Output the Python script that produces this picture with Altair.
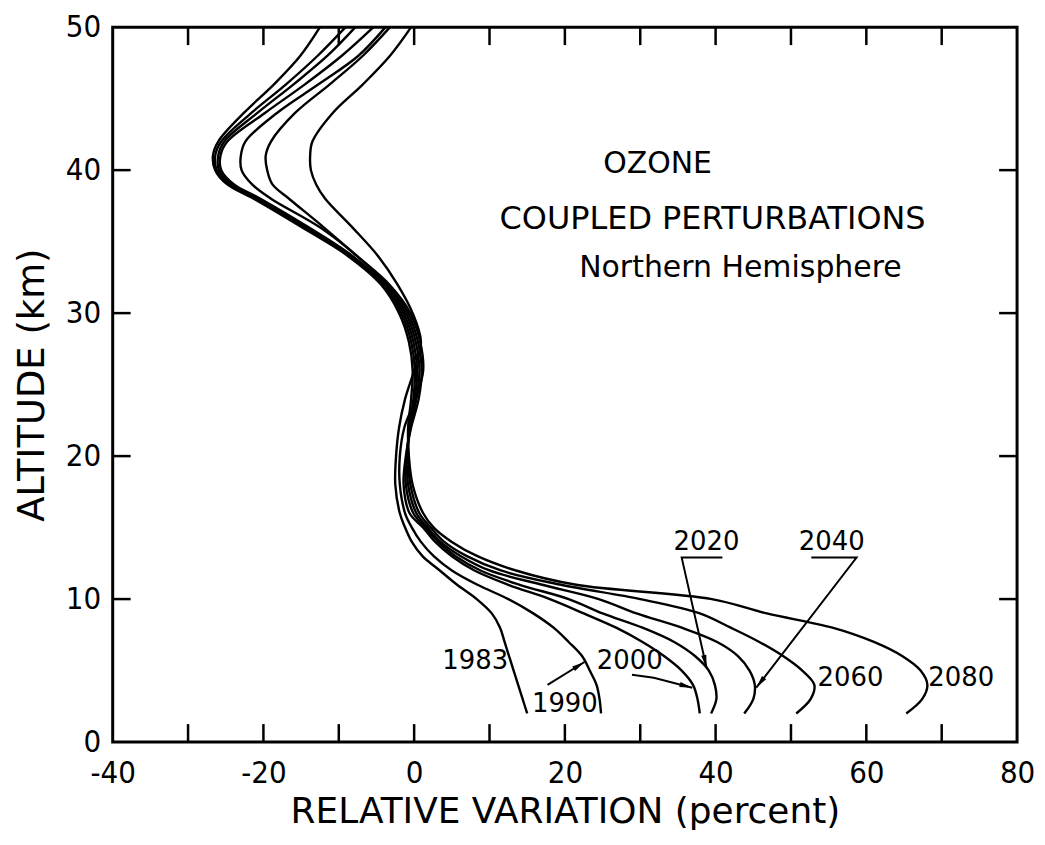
import math
import altair as alt
import pandas as pd

# ---------------- data ----------------
ALT = [2, 3, 4, 5, 6, 7, 8, 9, 10, 11, 12, 13, 14, 15, 16, 18, 20, 22, 24, 26,
       28, 30, 32, 34, 36, 38, 39, 40, 41, 42, 44, 46, 48, 50]

YEARS = ["1983", "1990", "2000", "2020", "2040", "2060", "2080"]

V1983 = [15.0, 14.4, 13.8, 13.2, 12.6, 12.0, 11.4, 10.3, 8.3, 5.7, 3.4, 1.1, -0.3, -1.2, -1.9,
         -2.5, -2.4, -2.0, -1.2, 0.0, 0.9, -0.2, -2.2, -4.8, -8.2, -11.8, -13.0, -13.7, -13.8,
         -13.5, -10.8, -6.8, -3.2, -0.4]
V1990 = [24.8, 24.6, 24.2, 23.3, 22.3, 20.5, 18.5, 15.8, 12.5, 8.4, 5.0, 2.6, 0.9, -0.3, -1.2,
         -1.9, -1.9, -1.3, 0.2, 1.2, 0.8, -0.5, -3.3, -7.6, -12.0, -16.6, -18.8, -19.5, -19.7,
         -19.0, -15.8, -11.2, -6.8, -3.2]
V2000 = [37.9, 37.6, 37.0, 35.5, 33.2, 30.3, 26.8, 22.5, 18.0, 12.5, 8.0, 5.0, 2.8, 1.2, -0.6,
         -1.4, -1.1, -0.4, 0.6, 1.0, 0.5, -0.8, -3.6, -7.6, -12.5, -19.0, -21.5, -22.9, -23.0,
         -22.4, -18.2, -12.7, -7.4, -3.8]
V2020 = [39.4, 40.1, 39.9, 39.1, 37.3, 34.5, 30.3, 25.0, 20.5, 14.0, 8.8, 5.5, 3.2, 1.5, -0.1,
         -1.1, -1.0, -0.5, 0.3, 0.7, 0.2, -1.1, -3.9, -8.2, -14.0, -20.4, -23.9, -25.6, -25.7,
         -24.8, -19.8, -14.5, -9.6, -5.4]
V2040 = [43.8, 45.0, 45.2, 44.5, 43.0, 40.2, 35.5, 29.5, 24.5, 17.0, 10.0, 6.2, 3.5, 1.8, 0.3,
         -0.8, -0.9, -0.6, 0.1, 0.4, -0.1, -1.4, -4.0, -8.4, -14.3, -20.7, -24.2, -25.9, -26.0,
         -25.2, -20.8, -16.0, -11.5, -7.8]
V2060 = [50.7, 52.6, 53.1, 51.5, 49.0, 45.8, 42.0, 37.9, 30.0, 19.5, 11.5, 7.0, 4.0, 2.2, 0.7,
         -0.5, -0.8, -0.7, -0.1, 0.1, -0.4, -1.7, -4.2, -8.6, -14.6, -21.0, -24.5, -26.2, -26.4,
         -25.6, -21.6, -17.0, -12.8, -9.1]
V2080 = [65.3, 67.4, 68.1, 67.2, 64.8, 61.0, 55.5, 46.8, 39.5, 21.5, 13.5, 8.4, 5.0, 2.6, 1.2,
         -0.2, -0.7, -0.8, -0.4, -0.2, -0.7, -2.0, -4.4, -8.8, -14.9, -21.3, -24.8, -26.4, -26.7,
         -26.0, -22.6, -18.6, -15.1, -12.5]
SERIES = [V1983, V1990, V2000, V2020, V2040, V2060, V2080]

# year labels (percent, altitude of baseline)
LABEL_TEXT = ["1983", "1990", "2000", "2020", "2040", "2060", "2080"]
LABEL_X = [8.1, 20.0, 28.6, 38.8, 55.4, 57.9, 72.6]
LABEL_Y = [5.1, 2.1, 5.1, 13.4, 13.4, 3.9, 3.9]

# arrows / leader lines (percent, altitude)
ARROW_1990_X = [17.7, 22.6]
ARROW_1990_Y = [4.0, 5.6]
ARROW_2000_X = [28.9, 31.8, 36.9]
ARROW_2000_Y = [4.7, 4.5, 3.8]
ARROW_2020_X = [40.9, 35.5, 38.8]
ARROW_2020_Y = [12.9, 12.9, 5.2]
ARROW_2040_X = [52.7, 58.7, 45.4]
ARROW_2040_Y = [12.9, 12.9, 3.8]
ARROWS = [("1990", ARROW_1990_X, ARROW_1990_Y), ("2000", ARROW_2000_X, ARROW_2000_Y),
          ("2020", ARROW_2020_X, ARROW_2020_Y), ("2040", ARROW_2040_X, ARROW_2040_Y)]

# title block inside plot
TITLE_LINES = ["OZONE", "COUPLED PERTURBATIONS", "Northern Hemisphere"]
TITLE_X = [32.3, 39.6, 43.3]
TITLE_Y = [39.8, 35.9, 32.5]
TITLE_SIZE = [30, 32, 30]

X_LABELS = [-40, -20, 0, 20, 40, 60, 80]
X_TICKS = [-30, -20, -10, 0, 10, 20, 30, 40, 50, 60, 70]
Y_LABELS = [0, 10, 20, 30, 40, 50]
Y_TICKS = [10, 20, 30, 40]

# ---------------- build ----------------
W, H = 907, 717
X_DOM = [-40, 80]
Y_DOM = [0, 50]
SX = W / (X_DOM[1] - X_DOM[0])
SY = H / (Y_DOM[1] - Y_DOM[0])

rows = []
for yr, vals in zip(YEARS, SERIES):
    for i, (a, v) in enumerate(zip(ALT, vals)):
        rows.append({"year": yr, "alt": a, "pct": v, "o": i})
df = pd.DataFrame(rows)

arow, heads = [], []
for name, xv, yv in ARROWS:
    for i, (x, y) in enumerate(zip(xv, yv)):
        arow.append({"name": name, "pct": x, "alt": y, "o": i})
    dx = (xv[-1] - xv[-2]) * SX
    dy = -(yv[-1] - yv[-2]) * SY
    ang = math.degrees(math.atan2(dx, -dy)) % 360
    heads.append({"name": name, "pct": xv[-1], "alt": yv[-1], "ang": ang})
adf = pd.DataFrame(arow)
hdf = pd.DataFrame(heads)

ldf = pd.DataFrame({"t": LABEL_TEXT, "pct": LABEL_X, "alt": LABEL_Y})
tdf = pd.DataFrame({"t": TITLE_LINES, "pct": TITLE_X, "alt": TITLE_Y, "fs": TITLE_SIZE})

xs = alt.Scale(domain=X_DOM, nice=False, zero=False)
ys = alt.Scale(domain=Y_DOM, nice=False, zero=False)

FONT = "DejaVu Sans"
COND = "DejaVu Sans Condensed"

X_AXIS = alt.Axis(values=X_LABELS, title="RELATIVE VARIATION (percent)",
                  labelFlush=False, labelOverlap=False, domain=False, ticks=False,
                  grid=False, labelFont=COND, labelFontSize=31, labelPadding=17,
                  labelExpr="replace(datum.label, '\u2212', '-')",
                  titleFont=FONT, titleFontSize=36, titleFontWeight="normal",
                  titlePadding=6, labelColor="black", titleColor="black")
Y_AXIS = alt.Axis(values=Y_LABELS, title="ALTITUDE (km)",
                  labelFlush=False, labelOverlap=False, domain=False, ticks=False,
                  grid=False, labelFont=COND, labelFontSize=31, labelPadding=12,
                  titleFont=FONT, titleFontSize=37, titleFontWeight="normal",
                  titlePadding=14, labelColor="black", titleColor="black")


def X():
    return alt.X("pct:Q", scale=xs, axis=X_AXIS)


def Y():
    return alt.Y("alt:Q", scale=ys, axis=Y_AXIS)


curves = alt.Chart(df).mark_line(color="black", strokeWidth=2.4, interpolate="catmull-rom").encode(
    x=X(), y=Y(), detail="year:N", order="o:Q")

TL = 18
xt = pd.DataFrame({"pct": X_TICKS})
yt = pd.DataFrame({"alt": Y_TICKS})
tick_b = alt.Chart(xt).mark_rule(color="black", strokeWidth=2.5).encode(
    x=X(), y=alt.value(H), y2=alt.value(H - TL))
tick_t = alt.Chart(xt).mark_rule(color="black", strokeWidth=2.5).encode(
    x=X(), y=alt.value(0), y2=alt.value(TL))
tick_l = alt.Chart(yt).mark_rule(color="black", strokeWidth=2.5).encode(
    y=Y(), x=alt.value(0), x2=alt.value(TL))
tick_r = alt.Chart(yt).mark_rule(color="black", strokeWidth=2.5).encode(
    y=Y(), x=alt.value(W), x2=alt.value(W - TL))

arrows = alt.Chart(adf).mark_line(color="black", strokeWidth=2).encode(
    x=X(), y=Y(), detail="name:N", order="o:Q")

arrow_heads = alt.Chart(hdf).mark_point(
    shape="M0,0L0.33,1.6L-0.33,1.6Z", filled=True, color="black", opacity=1, size=256,
    strokeWidth=0).encode(
    x=X(), y=Y(), angle=alt.Angle("ang:Q", scale=None))

labels = alt.Chart(ldf).mark_text(font=FONT, fontSize=26, color="black", align="center",
                                  baseline="alphabetic").encode(
    x=X(), y=Y(), text="t:N")

titles = alt.Chart(tdf).mark_text(font=FONT, color="black", align="center",
                                  baseline="alphabetic").encode(
    x=X(), y=Y(), text="t:N", size=alt.Size("fs:Q", scale=None))

chart = alt.layer(curves, tick_b, tick_t, tick_l, tick_r, arrows, arrow_heads, labels, titles).properties(
    width=W, height=H,
    padding={"left": 105, "top": 18, "right": 20, "bottom": 90},
    autosize=alt.AutoSizeParams(type="none"),
    background="white",
).configure_view(stroke="black", strokeWidth=3)

chart.save("out.html", embed_options={"renderer": "svg", "actions": False})
